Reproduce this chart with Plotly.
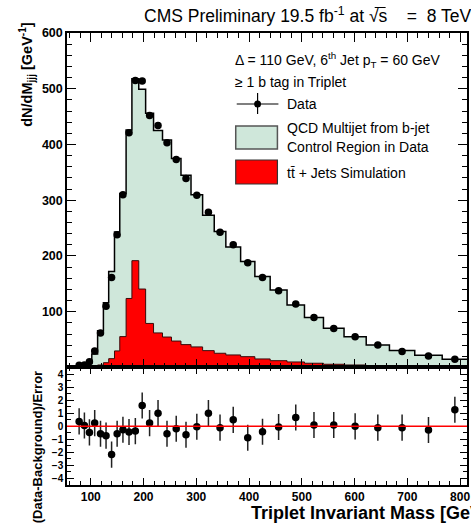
import plotly.graph_objects as go

# ---- data ----
bin_edges = [55, 64, 73, 83, 93, 102, 113, 124, 134, 145, 155, 167, 178, 191, 204, 219,
             236, 253, 271, 290, 312, 334, 356, 384, 411, 440, 472, 505, 541, 580, 622,
             666, 714, 766, 814]
ttbar = [0, 0, 0.3, 0.6, 1, 2, 4.5, 8.6, 15.8, 29.7, 55.4, 123.8, 191.6, 140.7, 79, 62,
         54.6, 47.4, 41, 36.9, 30.2, 25.5, 22.5, 19.4, 15.3, 12.2, 9.9, 7.6, 5.8, 4.5,
         3.2, 2.2, 1.5, 1.0]
qcd = [0.5, 1.5, 2.7, 4.4, 8, 22, 61.5, 107.4, 156.2, 213.3, 256.6, 302.2, 326.4, 358.3,
       377, 363, 353.4, 327.6, 304, 273.1, 242.8, 218.5, 193.5, 170.6, 147.7, 126.8,
       102.1, 82, 64.7, 50.5, 37.3, 28.1, 20.4, 13.7]
# data exist for bins starting at the third edge (73 GeV)
data_first_bin = 2
data = [4, 4.5, 10.4, 29.7, 62, 110, 161.6, 238, 310, 421, 515, 514, 452, 434, 403, 373,
        339, 309, 278.5, 242.5, 220, 188, 161.6, 137.6, 113.7, 89.6, 70, 55, 40.5, 28.5,
        20.6, 14.7]
pull = [0.37, 0.06, -0.47, 0.24, -0.57, -0.72, -2.17, -0.57, -0.27, -0.44, -0.37, 1.59,
        0.24, 1.0, -0.57, -0.19, -0.65, -0.04, 1.0, -0.11, 0.49, -0.88, -0.42, -0.06,
        0.67, 0.09, 0.09, -0.01, -0.11, -0.11, -0.29, 1.26]
x_ticks = [100, 200, 300, 400, 500, 600, 700, 800]
y_ticks = [100, 200, 300, 400, 500, 600]

# ---- derived ----
total = [q + t for q, t in zip(qcd, ttbar)]
centers = [(bin_edges[i] + bin_edges[i + 1]) / 2
           for i in range(data_first_bin, len(bin_edges) - 1)]

GREEN = "#cfe7da"
RED = "#ff0000"
FONT = "Liberation Sans, Arial, Helvetica, sans-serif"

W, H = 471, 525
ML, MR, MT, MB = 67, 1, 33, 40
PW, PH = W - ML - MR, H - MT - MB


def X(px):
    return (px - ML) / PW


def Y(py):
    return (H - MB - py) / PH


fig = go.Figure()

fig.add_trace(go.Scatter(
    x=bin_edges, y=total + [total[-1]], mode="lines", line_shape="hv",
    line=dict(color="black", width=1.5), fill="tozeroy", fillcolor=GREEN,
    xaxis="x", yaxis="y", showlegend=False, hoverinfo="skip"))
fig.add_trace(go.Scatter(
    x=bin_edges, y=ttbar + [ttbar[-1]], mode="lines", line_shape="hv",
    line=dict(color="#3a0a0a", width=1), fill="tozeroy", fillcolor=RED,
    xaxis="x", yaxis="y", showlegend=False, hoverinfo="skip"))
fig.add_trace(go.Scatter(
    x=centers, y=data, mode="markers",
    marker=dict(color="black", size=7.5),
    xaxis="x", yaxis="y", showlegend=False))
fig.add_trace(go.Scatter(
    x=centers, y=pull, mode="markers",
    marker=dict(color="black", size=7.5),
    error_y=dict(type="constant", value=1, color="#222222", thickness=1.5, width=0),
    xaxis="x2", yaxis="y2", showlegend=False))

axis_common = dict(showgrid=False, zeroline=False, showline=True, linecolor="black",
                   linewidth=1.5, mirror="allticks", ticks="inside", tickcolor="black",
                   tickwidth=1)

fig.update_layout(
    width=W, height=H,
    margin=dict(l=ML, r=MR, t=MT, b=MB),
    paper_bgcolor="white", plot_bgcolor="white",
    font=dict(family=FONT, color="black"),
    xaxis=dict(domain=[0, 1], range=[55, 813], anchor="y", matches="x2",
               showticklabels=False, tickvals=x_ticks, ticklen=9,
               minor=dict(dtick=20, ticklen=5, ticks="inside", tickcolor="black"),
               **axis_common),
    yaxis=dict(domain=[0.26, 1], range=[0, 600], anchor="x", tickvals=y_ticks, ticklen=9,
               tickfont=dict(size=12.5, weight="bold"),
               minor=dict(dtick=20, ticklen=5, ticks="inside", tickcolor="black"),
               **axis_common),
    xaxis2=dict(domain=[0, 1], range=[55, 813], anchor="y2", tickvals=x_ticks,
                ticklen=7, tickfont=dict(size=12, weight="bold"),
                ticklabeloverflow="allow",
                minor=dict(dtick=20, ticklen=4, ticks="inside", tickcolor="black"),
                **axis_common),
    yaxis2=dict(domain=[0, 0.26], range=[-4.5, 4.5], anchor="x2", dtick=1, ticklen=7,
                tickfont=dict(size=10, weight="bold"),
                minor=dict(dtick=0.5, ticklen=4, ticks="inside", tickcolor="black"),
                **axis_common),
)

shapes = [
    dict(type="line", xref="x2 domain", yref="y2", x0=0, x1=1, y0=0, y1=0,
         line=dict(color=RED, width=1.5)),
    # overline of the s in sqrt(s)
    dict(type="line", xref="paper", yref="paper", x0=X(377), x1=X(388), y0=Y(7.5), y1=Y(7.5),
         line=dict(color="black", width=1)),
    # legend: data symbol
    dict(type="line", xref="paper", yref="paper", x0=X(238), x1=X(280), y0=Y(104), y1=Y(104),
         line=dict(color="black", width=1.2)),
    dict(type="line", xref="paper", yref="paper", x0=X(259), x1=X(259), y0=Y(93), y1=Y(114),
         line=dict(color="black", width=1.2)),
    dict(type="circle", xref="paper", yref="paper", x0=X(255.5), x1=X(262.5),
         y0=Y(107.5), y1=Y(100.5), fillcolor="black", line=dict(color="black", width=0)),
    # legend: boxes
    dict(type="rect", xref="paper", yref="paper", x0=X(237), x1=X(279), y0=Y(149), y1=Y(126),
         fillcolor=GREEN, line=dict(color="#555555", width=1.5)),
    dict(type="rect", xref="paper", yref="paper", x0=X(237), x1=X(279), y0=Y(184), y1=Y(160),
         fillcolor=RED, line=dict(color="#333333", width=1.2)),
]

NB = "\u00a0"
annotations = [
    dict(text=f"CMS Preliminary 19.5 fb<sup>-1</sup> at √s{NB * 4}={NB * 2}8 TeV",
         x=X(143), y=Y(15), xanchor="left", yanchor="middle", font=dict(size=17.5)),
    dict(text="<b>dN/dM<sub>jjj</sub> [GeV<sup>-1</sup>]</b>", textangle=-90,
         x=X(27), y=Y(20), xanchor="center", yanchor="top", font=dict(size=14.5)),
    dict(text="<b>(Data-Background)/Error</b>", textangle=-90,
         x=X(37), y=Y(369), xanchor="center", yanchor="top", font=dict(size=13)),
    dict(text="<b>Triplet Invariant Mass [GeV]</b>",
         x=X(250), y=Y(513), xanchor="left", yanchor="middle", font=dict(size=18)),
    dict(text="Δ = 110 GeV, 6<sup>th</sup> Jet p<sub>T</sub> = 60 GeV",
         x=X(234), y=Y(60), xanchor="left", yanchor="middle", font=dict(size=14)),
    dict(text="≥ 1 b tag in Triplet",
         x=X(234), y=Y(82), xanchor="left", yanchor="middle", font=dict(size=14)),
    dict(text="Data", x=X(287), y=Y(104), xanchor="left", yanchor="middle", font=dict(size=14)),
    dict(text="QCD Multijet from b-jet", x=X(287), y=Y(128), xanchor="left",
         yanchor="middle", font=dict(size=14)),
    dict(text="Control Region in Data", x=X(287), y=Y(147), xanchor="left",
         yanchor="middle", font=dict(size=14)),
    dict(text="tt\u0304 + Jets Simulation", x=X(287), y=Y(173), xanchor="left",
         yanchor="middle", font=dict(size=14)),
]
for a in annotations:
    a.update(xref="paper", yref="paper", showarrow=False)

fig.update_layout(shapes=shapes, annotations=annotations)

fig.write_html(
    "out.html",
    config={"displayModeBar": False},
    post_script="document.body.style.margin='0';document.body.style.overflow='hidden';")
